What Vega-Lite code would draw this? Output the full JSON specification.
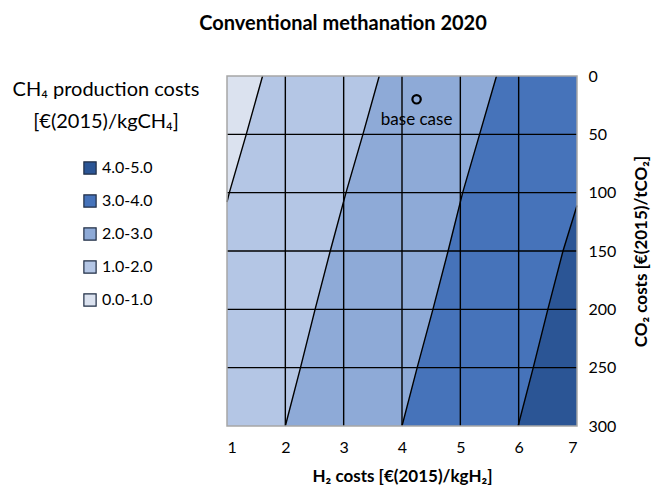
{
  "$schema": "https://vega.github.io/schema/vega-lite/v6.json",
  "autosize": {"type": "none"},
  "width": 350,
  "height": 350,
  "padding": {"left": 227, "top": 76, "right": 80, "bottom": 65},
  "config": {
    "font": "Lato",
    "view": {"stroke": null},
    "legend": {"padding": 0}
  },
  "title": {
    "text": "Conventional methanation 2020",
    "fontSize": 20,
    "fontWeight": "bold",
    "color": "#000000",
    "anchor": "middle",
    "baseline": "alphabetic",
    "offset": 18,
    "dx": -59
  },
  "datasets": {
    "bands": [
      {"band": "0.0-1.0", "co2": 0, "lo": 1.0, "hi": 1.61},
      {"band": "0.0-1.0", "co2": 50, "lo": 1.0, "hi": 1.33},
      {"band": "0.0-1.0", "co2": 100, "lo": 1.0, "hi": 1.04},
      {"band": "0.0-1.0", "co2": 108, "lo": 1.0, "hi": 1.0},
      {"band": "1.0-2.0", "co2": 0, "lo": 1.61, "hi": 3.61},
      {"band": "1.0-2.0", "co2": 50, "lo": 1.33, "hi": 3.33},
      {"band": "1.0-2.0", "co2": 100, "lo": 1.04, "hi": 3.04},
      {"band": "1.0-2.0", "co2": 108, "lo": 1.0, "hi": 3.0},
      {"band": "1.0-2.0", "co2": 150, "lo": 1.0, "hi": 2.77},
      {"band": "1.0-2.0", "co2": 200, "lo": 1.0, "hi": 2.51},
      {"band": "1.0-2.0", "co2": 250, "lo": 1.0, "hi": 2.26},
      {"band": "1.0-2.0", "co2": 300, "lo": 1.0, "hi": 2.0},
      {"band": "2.0-3.0", "co2": 0, "lo": 3.61, "hi": 5.62},
      {"band": "2.0-3.0", "co2": 50, "lo": 3.33, "hi": 5.33},
      {"band": "2.0-3.0", "co2": 100, "lo": 3.04, "hi": 5.04},
      {"band": "2.0-3.0", "co2": 150, "lo": 2.77, "hi": 4.79},
      {"band": "2.0-3.0", "co2": 200, "lo": 2.51, "hi": 4.53},
      {"band": "2.0-3.0", "co2": 250, "lo": 2.26, "hi": 4.26},
      {"band": "2.0-3.0", "co2": 300, "lo": 2.0, "hi": 4.0},
      {"band": "3.0-4.0", "co2": 0, "lo": 5.62, "hi": 7.0},
      {"band": "3.0-4.0", "co2": 50, "lo": 5.33, "hi": 7.0},
      {"band": "3.0-4.0", "co2": 100, "lo": 5.04, "hi": 7.0},
      {"band": "3.0-4.0", "co2": 111, "lo": 4.98, "hi": 7.0},
      {"band": "3.0-4.0", "co2": 150, "lo": 4.79, "hi": 6.76},
      {"band": "3.0-4.0", "co2": 200, "lo": 4.53, "hi": 6.5},
      {"band": "3.0-4.0", "co2": 250, "lo": 4.26, "hi": 6.25},
      {"band": "3.0-4.0", "co2": 300, "lo": 4.0, "hi": 5.99},
      {"band": "4.0-5.0", "co2": 111, "lo": 7.0, "hi": 7.0},
      {"band": "4.0-5.0", "co2": 150, "lo": 6.76, "hi": 7.0},
      {"band": "4.0-5.0", "co2": 200, "lo": 6.5, "hi": 7.0},
      {"band": "4.0-5.0", "co2": 250, "lo": 6.25, "hi": 7.0},
      {"band": "4.0-5.0", "co2": 300, "lo": 5.99, "hi": 7.0}
    ],
    "contours": [
      {"level": 1, "h2": 1.61, "co2": 0},
      {"level": 1, "h2": 1.33, "co2": 50},
      {"level": 1, "h2": 1.04, "co2": 100},
      {"level": 1, "h2": 1.0, "co2": 108},
      {"level": 2, "h2": 3.61, "co2": 0},
      {"level": 2, "h2": 3.33, "co2": 50},
      {"level": 2, "h2": 3.04, "co2": 100},
      {"level": 2, "h2": 2.77, "co2": 150},
      {"level": 2, "h2": 2.51, "co2": 200},
      {"level": 2, "h2": 2.26, "co2": 250},
      {"level": 2, "h2": 2.0, "co2": 300},
      {"level": 3, "h2": 5.62, "co2": 0},
      {"level": 3, "h2": 5.33, "co2": 50},
      {"level": 3, "h2": 5.04, "co2": 100},
      {"level": 3, "h2": 4.79, "co2": 150},
      {"level": 3, "h2": 4.53, "co2": 200},
      {"level": 3, "h2": 4.26, "co2": 250},
      {"level": 3, "h2": 4.0, "co2": 300},
      {"level": 4, "h2": 7.0, "co2": 111},
      {"level": 4, "h2": 6.76, "co2": 150},
      {"level": 4, "h2": 6.5, "co2": 200},
      {"level": 4, "h2": 6.25, "co2": 250},
      {"level": 4, "h2": 5.99, "co2": 300}
    ],
    "vgrid": [{"h2": 2}, {"h2": 3}, {"h2": 4}, {"h2": 5}, {"h2": 6}],
    "hgrid": [{"co2": 50}, {"co2": 100}, {"co2": 150}, {"co2": 200}, {"co2": 250}],
    "frame": [{"x1": 1, "x2": 7, "y1": 0, "y2": 300}],
    "base": [{"h2": 4.25, "co2": 20, "ytext": 38, "label": "base case"}]
  },
  "layer": [
    {
      "data": {"name": "bands"},
      "mark": {"type": "area", "orient": "horizontal", "clip": true},
      "encoding": {
        "y": {
          "field": "co2", "type": "quantitative",
          "scale": {"domain": [0, 300], "reverse": true, "nice": false, "zero": false},
          "axis": {
            "orient": "right", "values": [0, 50, 100, 150, 200, 250, 300],
            "ticks": false, "domain": false, "grid": false,
            "labelFontSize": 16, "labelColor": "#000000", "labelPadding": 11,
            "title": "CO₂ costs [€(2015)/tCO₂]", "titleFontSize": 17, "titleFontWeight": "bold",
            "titleColor": "#000000", "titleAngle": 270, "titlePadding": 35
          }
        },
        "x": {
          "field": "lo", "type": "quantitative", "stack": null,
          "scale": {"domain": [1, 7], "nice": false, "zero": false},
          "axis": {
            "values": [1, 2, 3, 4, 5, 6, 7], "format": "d", "ticks": false, "domain": false, "grid": false,
            "labelFontSize": 16, "labelColor": "#000000", "labelPadding": 13,
            "title": "H₂ costs [€(2015)/kgH₂]", "titleFontSize": 17, "titleFontWeight": "bold",
            "titleColor": "#000000", "titlePadding": 13
          }
        },
        "x2": {"field": "hi"},
        "color": {
          "field": "band", "type": "nominal",
          "scale": {
            "domain": ["4.0-5.0", "3.0-4.0", "2.0-3.0", "1.0-2.0", "0.0-1.0"],
            "range": ["#2b5595", "#4673ba", "#8eaad7", "#b4c6e5", "#dbe2ef"]
          },
          "legend": {
            "orient": "none",
            "legendX": -214,
            "legendY": 4,
            "title": ["CH₄ production costs", "\u00a0\u00a0[€(2015)/kgCH₄]"],
            "titleFontSize": 20,
            "titleFontWeight": "normal",
            "titleColor": "#000000",
            "titleAnchor": "middle",
            "titleLimit": 400,
            "titleLineHeight": 32,
            "titlePadding": 28,
            "symbolType": "square",
            "symbolSize": 150,
            "symbolOffset": 23,
            "symbolStrokeColor": "#1f2d44",
            "symbolStrokeWidth": 1.2,
            "symbolOpacity": 1,
            "labelFontSize": 16,
            "labelColor": "#000000",
            "labelOffset": 4,
            "rowPadding": 15
          }
        }
      }
    },
    {
      "data": {"name": "vgrid"},
      "mark": {"type": "rule", "color": "#000000", "strokeWidth": 1.4},
      "encoding": {"x": {"field": "h2", "type": "quantitative"}}
    },
    {
      "data": {"name": "hgrid"},
      "mark": {"type": "rule", "color": "#000000", "strokeWidth": 1.4},
      "encoding": {"y": {"field": "co2", "type": "quantitative"}}
    },
    {
      "data": {"name": "contours"},
      "mark": {"type": "line", "color": "#000000", "strokeWidth": 1.4},
      "encoding": {
        "x": {"field": "h2", "type": "quantitative"},
        "y": {"field": "co2", "type": "quantitative"},
        "detail": {"field": "level", "type": "nominal"},
        "order": {"field": "co2", "type": "quantitative"}
      }
    },
    {
      "data": {"name": "frame"},
      "mark": {"type": "rect", "fill": null, "fillOpacity": 0, "stroke": "#a6a6a6", "strokeWidth": 1.5},
      "encoding": {
        "x": {"field": "x1", "type": "quantitative"},
        "x2": {"field": "x2"},
        "y": {"field": "y1", "type": "quantitative"},
        "y2": {"field": "y2"}
      }
    },
    {
      "data": {"name": "base"},
      "mark": {"type": "point", "shape": "circle", "filled": false, "stroke": "#000000", "strokeWidth": 2.2, "size": 70, "opacity": 1},
      "encoding": {
        "x": {"field": "h2", "type": "quantitative"},
        "y": {"field": "co2", "type": "quantitative"}
      }
    },
    {
      "data": {"name": "base"},
      "mark": {"type": "text", "fontSize": 17, "color": "#000000", "baseline": "middle", "align": "center"},
      "encoding": {
        "x": {"field": "h2", "type": "quantitative"},
        "y": {"field": "ytext", "type": "quantitative"},
        "text": {"field": "label"}
      }
    }
  ]
}
